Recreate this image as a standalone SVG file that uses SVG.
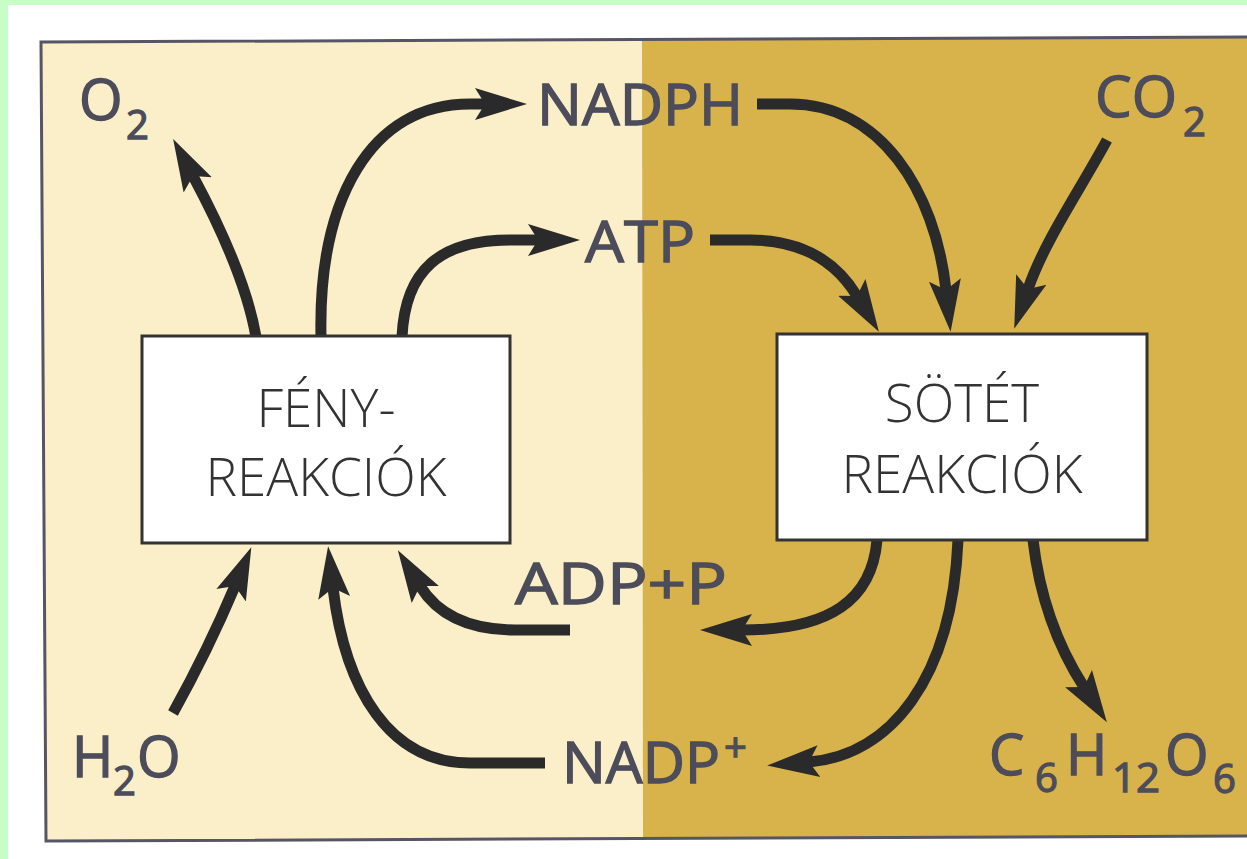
<svg xmlns="http://www.w3.org/2000/svg" width="1247" height="859" viewBox="0 0 1247 859">
<style>
.lbl{font-family:"Open Sans","Liberation Sans",sans-serif;font-weight:400;font-size:56px;fill:#4c4c5a;stroke:#4c4c5a;stroke-width:1.3}
.sub{font-size:40px}
.box{fill:#ffffff;stroke:#333333;stroke-width:3}
.btxt{font-family:"Open Sans","Liberation Sans",sans-serif;font-weight:300;font-size:53px;fill:#333333;text-anchor:middle}
.arr{fill:none;stroke:#2a2a2a;stroke-width:11;stroke-linecap:butt;marker-end:url(#ah)}
</style>
<defs>
<marker id="ah" markerUnits="userSpaceOnUse" markerWidth="60" markerHeight="40" viewBox="0 -20 60 40" refX="10" refY="0" orient="auto">
<path d="M0,-16 L52,0 L0,16 L10,0 Z" fill="#2a2a2a"/>
</marker>
</defs>
<rect x="0" y="0" width="1247" height="859" fill="#ffffff"/>
<rect x="0" y="0" width="1247" height="5" fill="#c8fdc8"/>
<rect x="0" y="0" width="8" height="859" fill="#c8fdc8"/>
<g id="background">
<polygon points="41,42 642,40 643,839 46,841" fill="#faefc8"/>
<polygon points="642,40 1260,37 1260,836 643,839" fill="#d8b24a"/>
<polyline points="1260,37 41,42 46,841 1260,836" fill="none" stroke="#555566" stroke-width="3"/>
</g>
<g id="connectors">
<path class="arr" d="M256,337 C248,290 222,230 193,176"/>
<path class="arr" d="M321,337 C318,200 370,104 470,104 L485,104"/>
<path class="arr" d="M402,337 C405,270 440,240 510,240 L538,240"/>
<path class="arr" d="M173,713 Q208,650 235,586"/>
<path class="arr" d="M545,763 L470,763 C390,763 345,690 333,588"/>
<path class="arr" d="M570,630 L515,630 C470,630 438,615 420,586"/>
<path class="arr" d="M757,104 L790,104 C880,104 935,190 946,290"/>
<path class="arr" d="M710,240 L750,240 C800,240 835,260 857,296"/>
<path class="arr" d="M1107,140 C1080,190 1045,240 1028,289"/>
<path class="arr" d="M877,540 C872,600 830,630 742,630"/>
<path class="arr" d="M958,540 C952,680 890,755 809,762"/>
<path class="arr" d="M1033,540 C1040,600 1060,650 1084,687"/>
</g>
<g id="feny">
<rect class="box" x="142" y="336" width="368" height="207"/>
<text class="btxt" x="326" y="427">FÉNY-</text>
<text class="btxt" x="326" y="496">REAKCIÓK</text>
</g>
<g id="sotet">
<rect class="box" x="777" y="334" width="370" height="206"/>
<text class="btxt" x="962" y="422">SÖTÉT</text>
<text class="btxt" x="962" y="493">REAKCIÓK</text>
</g>
<g id="o2"><text class="lbl"><tspan x="79" y="120">O</tspan><tspan class="sub" x="126" y="139">2</tspan></text></g>
<g id="co2"><text class="lbl"><tspan x="1095" y="117" textLength="82" lengthAdjust="spacingAndGlyphs">CO</tspan><tspan class="sub" x="1183" y="136">2</tspan></text></g>
<g id="h2o"><text class="lbl"><tspan x="72" y="777">H</tspan><tspan class="sub" x="113" y="795">2</tspan><tspan x="137" y="777">O</tspan></text></g>
<g id="glucose"><text class="lbl"><tspan x="989" y="775">C</tspan><tspan class="sub" x="1035" y="792">6</tspan><tspan x="1066" y="775">H</tspan><tspan class="sub" x="1112" y="792" textLength="48" lengthAdjust="spacingAndGlyphs">12</tspan><tspan x="1165" y="775">O</tspan><tspan class="sub" x="1213" y="793">6</tspan></text></g>
<g id="nadph"><text class="lbl" x="537" y="125" textLength="206" lengthAdjust="spacingAndGlyphs">NADPH</text></g>
<g id="atp"><text class="lbl" x="585" y="262" textLength="110" lengthAdjust="spacingAndGlyphs">ATP</text></g>
<g id="adpp"><text class="lbl" x="515" y="604" textLength="212" lengthAdjust="spacingAndGlyphs">ADP+P</text></g>
<g id="nadpplus"><text class="lbl"><tspan x="562" y="783" textLength="158" lengthAdjust="spacingAndGlyphs">NADP</tspan><tspan class="sub" x="724" y="762">+</tspan></text></g>
</svg>
